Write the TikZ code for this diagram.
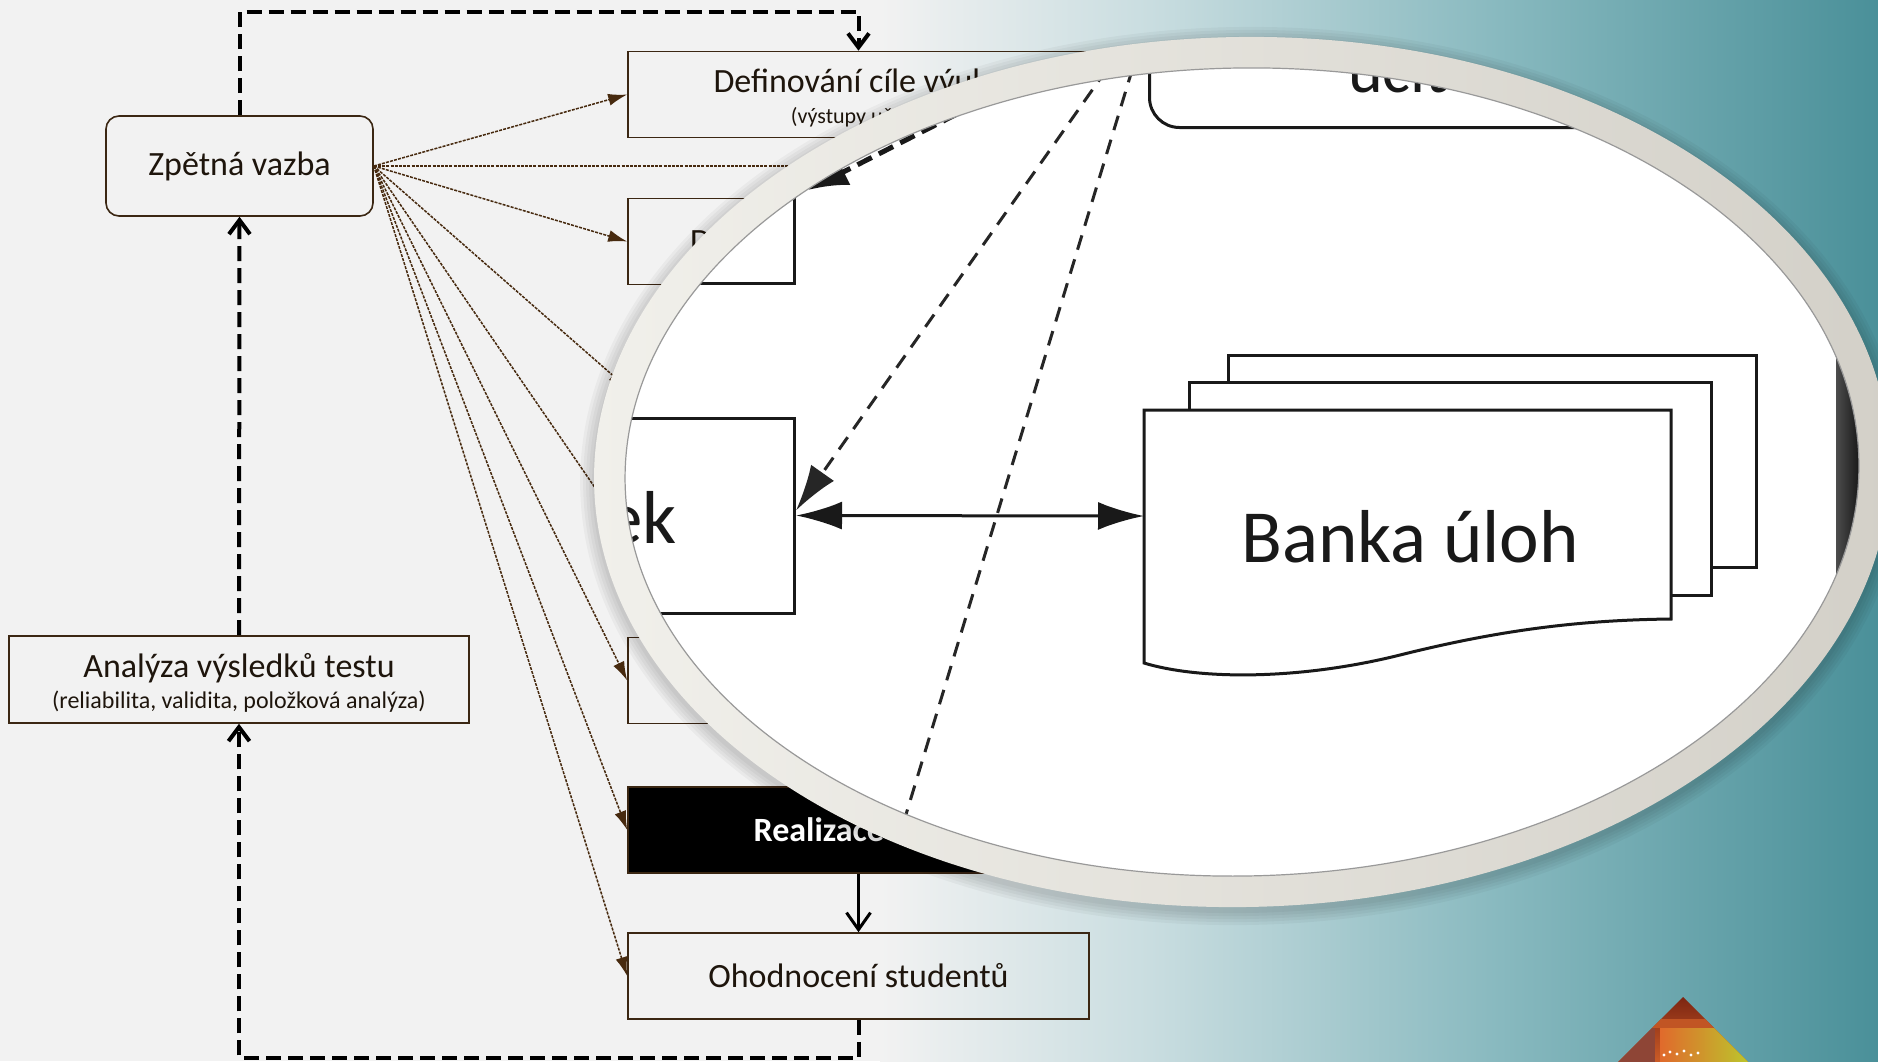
\documentclass[tikz,border=0pt]{standalone}
\usepackage{fontspec}
\setmainfont{Carlito}
\usetikzlibrary{arrows.meta}

\definecolor{pozadi}{HTML}{F2F2F2}
\definecolor{hneda}{HTML}{3B2713}
\definecolor{tecky}{HTML}{472A0F}
\definecolor{pismo}{HTML}{1E150C}
\definecolor{modra1}{HTML}{C9DDE0}
\definecolor{modra2}{HTML}{88B9BF}
\definecolor{modra3}{HTML}{4A9099}
\definecolor{obruc}{HTML}{D3D0C8}
\definecolor{obrucsvetla}{HTML}{F1F0EB}
\definecolor{vrchol}{HTML}{7A2412}
\definecolor{oranzova}{HTML}{E06A2C}
\definecolor{zluta}{HTML}{BCC52C}

\tikzset{
  krok/.style={draw=hneda, line width=1.6pt, minimum width=461pt,
    minimum height=86pt, text=pismo, align=center,
    font=\fontsize{34}{31}\selectfont},
  zpetna/.style={krok, rounded corners=13pt, minimum width=267pt,
    minimum height=100pt},
  popis/.style={text=pismo, font=\fontsize{34}{38}\selectfont, inner sep=0pt},
  smycka/.style={line width=4pt, dash pattern=on 15pt off 7pt,
    -{Straight Barb[length=14pt,width=21pt]}},
  plna/.style={line width=3pt, -{Straight Barb[length=17pt,width=24pt]}},
  vejir/.style={tecky, line width=1.5pt, dash pattern=on 3pt off 1.2pt,
    -{Latex[length=19pt,width=12pt]}},
  lupa/.style={draw=black!90, line width=3pt, fill=white},
  lupacara/.style={black!85, line width=3pt, dash pattern=on 15pt off 10pt},
  hrot/.style={-{Latex[length=46pt,width=28pt]}},
  velka/.style={text=black!90, font=\fontsize{75}{80}\selectfont, inner sep=0pt}
}

\begin{document}
\begin{tikzpicture}[x=1pt,y=-1pt]
\useasboundingbox (0,0) rectangle (1878,1061);

\fill[pozadi] (0,0) rectangle (1878,1061);
\shade[left color=pozadi, right color=modra1] (880,0) rectangle (1150,1061);
\shade[left color=modra1, right color=modra2] (1150,0) rectangle (1500,1061);
\shade[left color=modra2, right color=modra3] (1500,0) rectangle (1878,1061);

\begin{scope}
  \clip (1683,997) -- (1748,1062) -- (1618,1062) -- cycle;
  \shade[top color=vrchol, bottom color=oranzova!80!vrchol] (1610,995) rectangle (1760,1062);
  \fill[oranzova!70!vrchol] (1610,1019) rectangle (1760,1028);
  \shade[left color=oranzova, right color=zluta] (1660,1028) rectangle (1748,1062);
  \fill[vrchol!85] (1610,1028) rectangle (1655,1062);
  \foreach \x/\y in {1664/1055,1670/1052,1677/1054,1684/1051,1691/1055,1698/1053}
    \fill[white] (\x,\y) circle (1.6pt);
\end{scope}

\node[zpetna] (zpet) at (239.5,166) {Zpětná vazba};
\node[krok] (cile) at (858.5,94.5) {\rule{0pt}{30pt}Definování cíle výuky\\{\fontsize{22}{26}\selectfont(výstupy učení)}};
\node[krok] (navrh) at (858.5,241.5) {};
\node[popis, anchor=west] (navrht) at (690,241.5) {D};
\node[krok] (krok3) at (858.5,388) {};
\node[krok] (krok4) at (858.5,534.5) {};
\node[krok] (krok5) at (858.5,680.5) {};
\node[krok, fill=black, text=white, font=\fontsize{34}{31}\selectfont\bfseries] (realizace) at (858.5,830) {Realizace testu};
\node[krok] (ohodnoceni) at (858.5,976) {Ohodnocení studentů};
\node[krok, minimum width=460pt, minimum height=87pt] (analyza) at (239,679.5) {\rule{0pt}{31pt}Analýza výsledků testu\\{\fontsize{24}{27}\selectfont(reliabilita, validita, položková analýza)}};
\coordinate (vpravo) at (900,166);

\draw[smycka] (zpet.north) -- ++(0,-103) -| (cile.north);
\draw[smycka] (analyza.north) -- (zpet.south);
\draw[smycka] (ohodnoceni.south) -- ++(0,38) -| (analyza.south);
\draw[plna] (realizace.south) -- (ohodnoceni.north);
\foreach \cil in {cile,navrh,krok3,krok4,krok5,realizace,ohodnoceni}
  \draw[vejir] (zpet.east) -- (\cil.west);
\draw[vejir] (zpet.east) -- (vpravo);

\foreach \r in {14,11,8,5,2}
  \fill[black, opacity=0.035, rotate around={1:(1242,472)}] (1242,476) ellipse [x radius=648pt+\r pt, y radius=435pt+\r pt];
\shade[left color=obrucsvetla, right color=obruc, rotate around={1:(1242,472)}] (1242,472) ellipse [x radius=648pt, y radius=435pt];

\begin{scope}
  \clip[rotate around={1:(1242,472)}] (1242,472) ellipse [x radius=617pt, y radius=404pt];
  \fill[white] (590,30) rectangle (1878,910);
  \shade[left color=black!70, middle color=modra3!75!black, right color=black] (1836,330) rectangle (1870,620);
  \node[lupa, rounded corners=30pt, minimum width=620pt, minimum height=200pt, anchor=south west] (mcile) at (1148,129) {};
  \node[velka, font=\fontsize{66}{70}\selectfont, anchor=base west] (mcilet) at (1348,92) {učit};
  \node[lupa, minimum width=400pt, minimum height=130pt, anchor=south east] (mhorni) at (796,285) {};
  \node[lupa, minimum width=400pt, minimum height=195pt, anchor=east] (mpolozky) at (796,515.5) {};
  \node[velka, anchor=base east] (mpolozkyt) at (677,543) {ek};
  \node[lupa, minimum width=528pt, minimum height=212pt] (bzadni) at (1492,461) {};
  \node[lupa, minimum width=522pt, minimum height=213pt] (bstredni) at (1450,488.5) {};
  \path[lupa] (1144,410) -- (1671,410) -- (1671,619)
    .. controls (1580,620) and (1500,630) .. (1400,655)
    .. controls (1300,680) and (1200,680) .. (1144,663) -- cycle;
  \node[velka, anchor=base] (banka) at (1410,562) {Banka úloh};
  \coordinate (bankavlevo) at (1144,516);
  \coordinate (mz1) at (1150,8);
  \coordinate (mz2) at (1140,44);
  \coordinate (mk2) at (880,900);
  \coordinate (mz3) at (1000,92);
  \coordinate (mk3) at (808,190);
  \draw[line width=3pt, black!90, {Latex[length=46pt,width=28pt]}-{Latex[length=46pt,width=28pt]}] (mpolozky.east) -- (bankavlevo);
  \draw[lupacara, hrot] (mz1) -- ([yshift=5pt]mpolozky.east);
  \draw[lupacara] (mz2) -- (mk2);
  \draw[black!90, line width=5pt, dash pattern=on 16pt off 8pt, -{Latex[length=40pt,width=30pt]}] (mz3) -- (mk3);
\end{scope}
\draw[black!40, line width=1.2pt, rotate around={1:(1242,472)}] (1242,472) ellipse [x radius=617pt, y radius=404pt];

\end{tikzpicture}
\end{document}
